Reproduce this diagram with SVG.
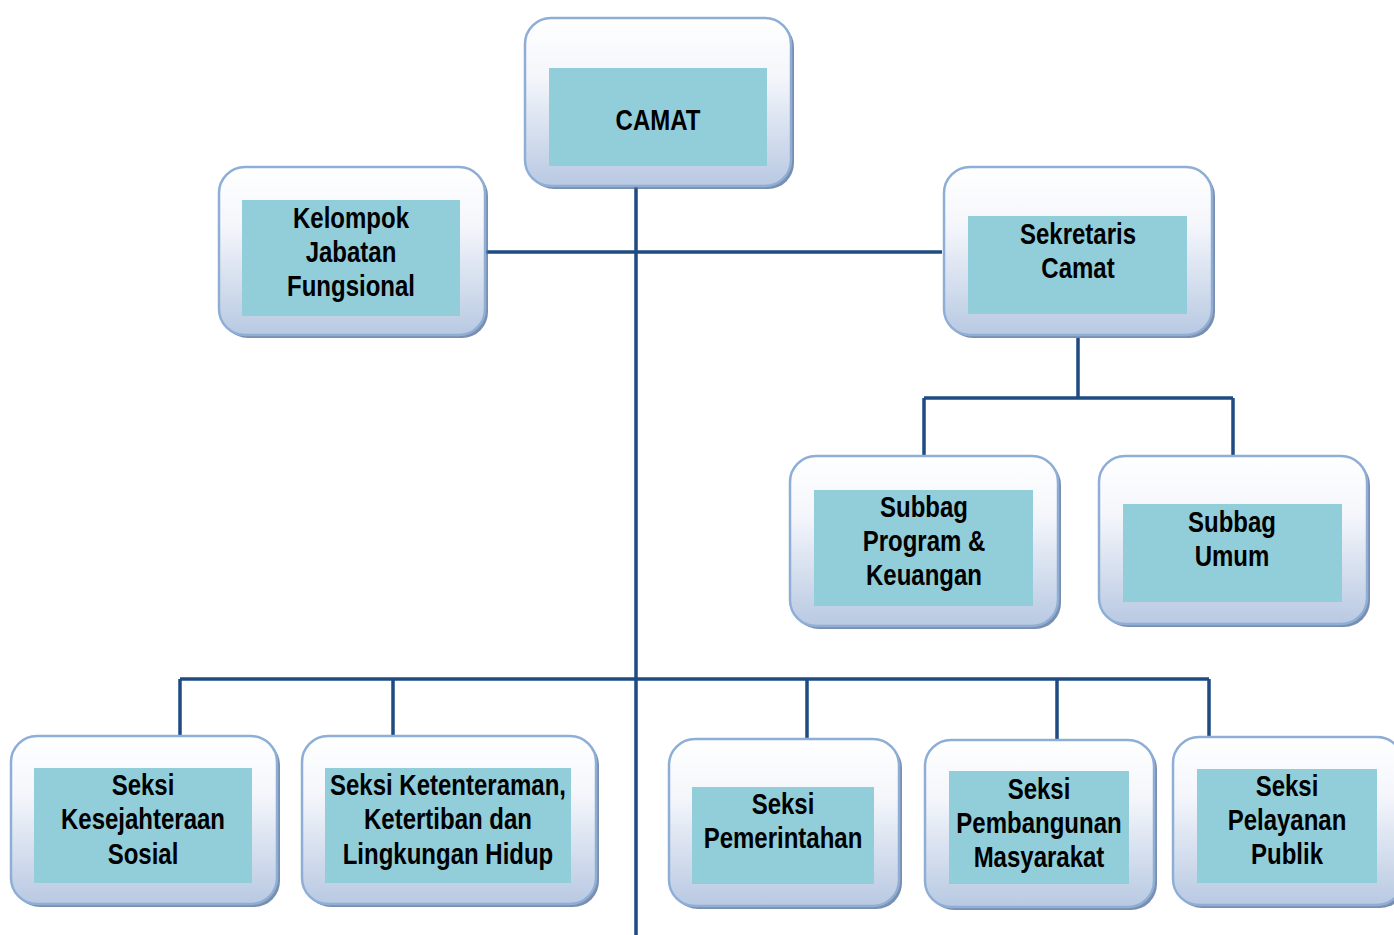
<svg xmlns="http://www.w3.org/2000/svg" width="1394" height="935" viewBox="0 0 1394 935">
<defs>
<linearGradient id="g" x1="0" y1="0" x2="0" y2="1">
<stop offset="0" stop-color="#ffffff"/>
<stop offset="0.35" stop-color="#f4f6fb"/>
<stop offset="1" stop-color="#b8c9e2"/>
</linearGradient>
</defs>
<style>
.sh{fill:#4d6a96;opacity:0.75}
.ob{fill:url(#g);stroke:#8eaed6;stroke-width:2.5}
.ib{fill:#92cdda}
.t{font-family:"Liberation Sans",Arial,sans-serif;font-weight:bold;font-size:30px;fill:#000;text-anchor:middle}
.c{stroke:#1f4b82;stroke-width:3.5;fill:none}
</style>
<rect width="1394" height="935" fill="#fff"/>
<g id="connectors">
<path class="c" d="M636 186V935"/>
<path class="c" d="M485 252H942"/>
<path class="c" d="M1078 338V398M924 398H1233M924 398V456M1233 398V456"/>
<path class="c" d="M180 679H1209M180 679V736M393 679V736M807 679V739M1057 679V740M1209 679V737"/>
</g>
<g id="camat">
<rect class="sh" x="528" y="21" width="266" height="168" rx="26"/>
<rect class="ob" x="525" y="18" width="266" height="168" rx="26"/>
<rect class="ib" x="549" y="68" width="218" height="98"/>
<g transform="translate(658,0) scale(0.8,1)"><text class="t" x="0" y="130">CAMAT</text></g>
</g>
<g id="kelompok">
<rect class="sh" x="222" y="170" width="266" height="168" rx="26"/>
<rect class="ob" x="219" y="167" width="266" height="168" rx="26"/>
<rect class="ib" x="242" y="200" width="218" height="116"/>
<g transform="translate(351,0) scale(0.8,1)">
<text class="t" x="0" y="228">Kelompok</text>
<text class="t" x="0" y="262">Jabatan</text>
<text class="t" x="0" y="296">Fungsional</text>
</g>
</g>
<g id="sekretaris">
<rect class="sh" x="947" y="170" width="268" height="168" rx="26"/>
<rect class="ob" x="944" y="167" width="268" height="168" rx="26"/>
<rect class="ib" x="968" y="216" width="219" height="98"/>
<g transform="translate(1078,0) scale(0.8,1)">
<text class="t" x="0" y="244">Sekretaris</text>
<text class="t" x="0" y="278">Camat</text>
</g>
</g>
<g id="subbag-program">
<rect class="sh" x="793" y="459" width="268" height="170" rx="26"/>
<rect class="ob" x="790" y="456" width="268" height="170" rx="26"/>
<rect class="ib" x="814" y="490" width="219" height="116"/>
<g transform="translate(924,0) scale(0.8,1)">
<text class="t" x="0" y="517">Subbag</text>
<text class="t" x="0" y="551">Program &amp;</text>
<text class="t" x="0" y="585">Keuangan</text>
</g>
</g>
<g id="subbag-umum">
<rect class="sh" x="1102" y="459" width="268" height="168" rx="26"/>
<rect class="ob" x="1099" y="456" width="268" height="168" rx="26"/>
<rect class="ib" x="1123" y="504" width="219" height="98"/>
<g transform="translate(1232,0) scale(0.8,1)">
<text class="t" x="0" y="532">Subbag</text>
<text class="t" x="0" y="566">Umum</text>
</g>
</g>
<g id="seksi-kesejahteraan">
<rect class="sh" x="14" y="739" width="266" height="168" rx="26"/>
<rect class="ob" x="11" y="736" width="266" height="168" rx="26"/>
<rect class="ib" x="34" y="768" width="218" height="115"/>
<g transform="translate(143,0) scale(0.8,1)">
<text class="t" x="0" y="795">Seksi</text>
<text class="t" x="0" y="829">Kesejahteraan</text>
<text class="t" x="0" y="864">Sosial</text>
</g>
</g>
<g id="seksi-ketenteraman">
<rect class="sh" x="305" y="739" width="294" height="168" rx="26"/>
<rect class="ob" x="302" y="736" width="294" height="168" rx="26"/>
<rect class="ib" x="325" y="768" width="246" height="115"/>
<g transform="translate(448,0) scale(0.8,1)">
<text class="t" x="0" y="795">Seksi Ketenteraman,</text>
<text class="t" x="0" y="829">Ketertiban dan</text>
<text class="t" x="0" y="864">Lingkungan Hidup</text>
</g>
</g>
<g id="seksi-pemerintahan">
<rect class="sh" x="672" y="742" width="230" height="167" rx="26"/>
<rect class="ob" x="669" y="739" width="230" height="167" rx="26"/>
<rect class="ib" x="692" y="787" width="182" height="97"/>
<g transform="translate(783,0) scale(0.8,1)">
<text class="t" x="0" y="814">Seksi</text>
<text class="t" x="0" y="848">Pemerintahan</text>
</g>
</g>
<g id="seksi-pembangunan">
<rect class="sh" x="928" y="743" width="229" height="167" rx="26"/>
<rect class="ob" x="925" y="740" width="229" height="167" rx="26"/>
<rect class="ib" x="949" y="771" width="180" height="113"/>
<g transform="translate(1039,0) scale(0.8,1)">
<text class="t" x="0" y="799">Seksi</text>
<text class="t" x="0" y="833">Pembangunan</text>
<text class="t" x="0" y="867">Masyarakat</text>
</g>
</g>
<g id="seksi-pelayanan">
<rect class="sh" x="1176" y="740" width="230" height="168" rx="26"/>
<rect class="ob" x="1173" y="737" width="230" height="168" rx="26"/>
<rect class="ib" x="1197" y="769" width="180" height="114"/>
<g transform="translate(1287,0) scale(0.8,1)">
<text class="t" x="0" y="796">Seksi</text>
<text class="t" x="0" y="830">Pelayanan</text>
<text class="t" x="0" y="864">Publik</text>
</g>
</g>
</svg>
